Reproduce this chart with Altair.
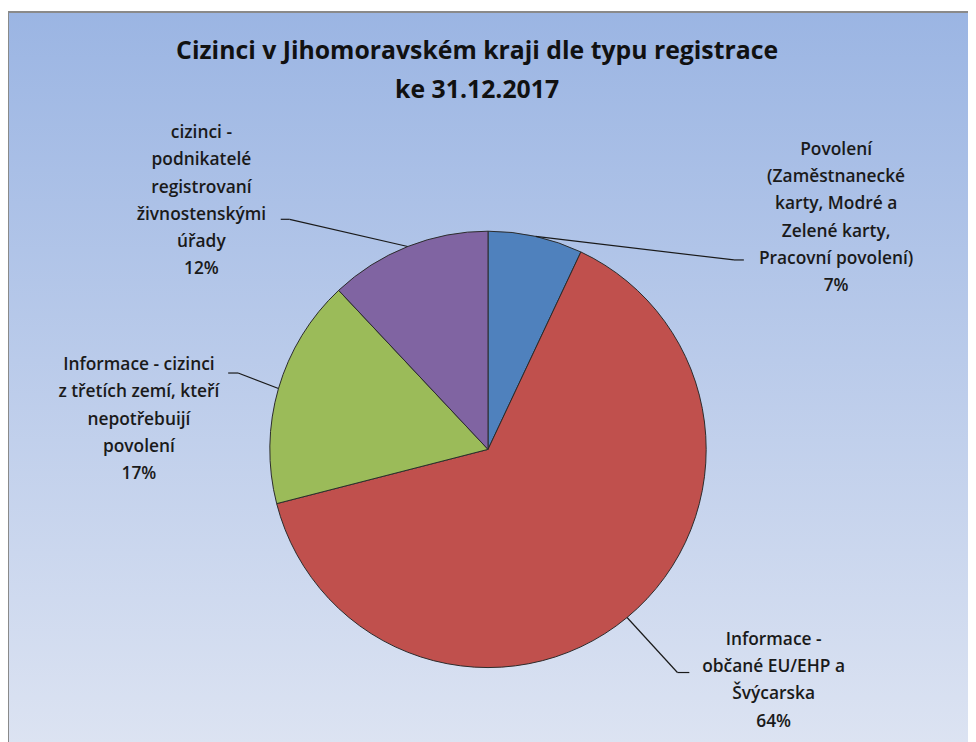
import math
import altair as alt
import pandas as pd

# ---- data ----
categories = [
    "Povolení (Zaměstnanecké karty, Modré a Zelené karty, Pracovní povolení)",
    "Informace - občané EU/EHP a Švýcarska",
    "Informace - cizinci z třetích zemí, kteří nepotřebuijí povolení",
    "cizinci - podnikatelé registrovaní živnostenskými úřady",
]
shares = [7, 64, 17, 12]
label_lines = [
    "Povolení\n(Zaměstnanecké\nkarty, Modré a\nZelené karty,\nPracovní  povolení)\n7%",
    "Informace -\nobčané EU/EHP a\nŠvýcarska\n64%",
    "Informace  - cizinci\nz třetích zemí, kteří\nnepotřebuijí\npovolení\n17%",
    "cizinci -\npodnikatelé\nregistrovaní\nživnostenskými\núřady\n12%",
]
title_lines = ["Cizinci v Jihomoravském kraji dle typu registrace", "ke 31.12.2017"]

# ---- styles / layout ----
colors = ["#4F81BD", "#C0504D", "#9BBB59", "#8064A2"]
W, H = 968, 734
CX, CY, R = 484, 442, 220
label_pos = [(835, 140), (772, 634), (132, 357), (195, 123)]        # label anchors (first line)
elbow = [(732, 251), (675, 667), (232, 365), (284, 210)]            # leader line bends
tick_end = [(742, 251), (687, 667), (222, 365), (275, 210)]         # short horizontal ends

df = pd.DataFrame({"cat": categories, "value": shares, "order": range(len(shares))})

# leader line rim points computed from slice mid-angles
total = sum(shares)
cum = 0
rims = []
for v in shares:
    mid = (cum + v / 2) / total * 2 * math.pi
    rims.append((CX + R * math.sin(mid), CY - R * math.cos(mid)))
    cum += v

seg_rows = []
for i in range(len(shares)):
    seg_rows.append({"x": rims[i][0], "y": rims[i][1], "x2": elbow[i][0], "y2": elbow[i][1]})
    seg_rows.append({"x": elbow[i][0], "y": elbow[i][1], "x2": tick_end[i][0], "y2": tick_end[i][1]})
segs = pd.DataFrame(seg_rows)

labels = pd.DataFrame({
    "text": label_lines,
    "lx": [p[0] for p in label_pos],
    "ly": [p[1] for p in label_pos],
})
titles = pd.DataFrame({"text": title_lines, "tx": [473, 473], "ty": [40, 80]})

bg = alt.Chart(pd.DataFrame({"a": [0]})).mark_rect(
    color=alt.Gradient(
        gradient="linear",
        stops=[alt.GradientStop(color="#9BB5E3", offset=0),
               alt.GradientStop(color="#DCE3F2", offset=1)],
        x1=0, x2=0, y1=0, y2=1,
    ),
    stroke="#8a8a8a", strokeWidth=2,
).encode(x=alt.value(0), x2=alt.value(W + 5), y=alt.value(1), y2=alt.value(H + 5))

pie = alt.Chart(df).mark_arc(radius=R, stroke="#2b2b2b", strokeWidth=1).encode(
    theta=alt.Theta("value:Q", stack=True),
    color=alt.Color("cat:N", scale=alt.Scale(domain=categories, range=colors), legend=None),
    order=alt.Order("order:Q"),
    x=alt.value(CX), y=alt.value(CY),
)

lines = alt.Chart(segs).mark_rule(color="#1a1a1a", strokeWidth=1.2).encode(
    x=alt.X("x:Q", scale=None), y=alt.Y("y:Q", scale=None),
    x2="x2:Q", y2="y2:Q",
)

text = alt.Chart(labels).mark_text(
    lineBreak="\n", lineHeight=27.5, align="center", baseline="middle",
    font="Open Sans", fontSize=17.5, fontWeight=600, color="#1a1a1a",
).encode(x=alt.X("lx:Q", scale=None), y=alt.Y("ly:Q", scale=None), text="text:N")

title = alt.Chart(titles).mark_text(
    align="center", baseline="middle", font="Open Sans", fontSize=25,
    fontWeight="bold", color="#111111",
).encode(x=alt.X("tx:Q", scale=None), y=alt.Y("ty:Q", scale=None), text="text:N")

chart = alt.layer(bg, pie, lines, text, title).properties(
    width=W, height=H, padding=0, autosize=alt.AutoSizeParams(type="none"),
).configure_view(stroke=None)

chart.save("out.html", embed_options={"renderer": "svg", "actions": False})
